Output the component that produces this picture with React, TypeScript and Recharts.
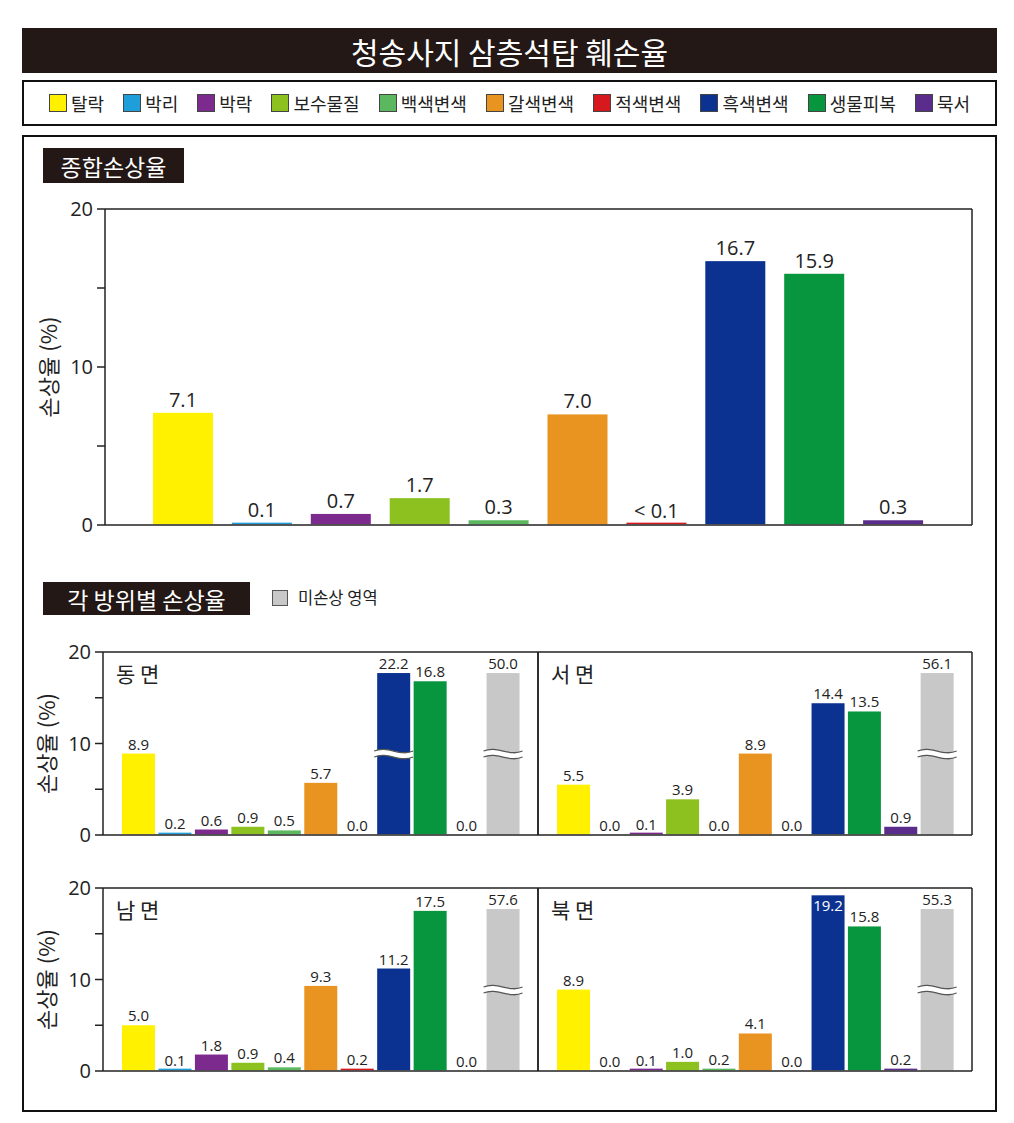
import React from 'react';
import { BarChart, Bar, XAxis, YAxis, Cell, LabelList } from 'recharts';

const CATEGORIES = ['탈락', '박리', '박락', '보수물질', '백색변색', '갈색변색', '적색변색', '흑색변색', '생물피복', '묵서'];
const UNDAMAGED = '미손상 영역';
const PANEL_CATEGORIES = [...CATEGORIES, UNDAMAGED];
const COLORS = ['#FFF100', '#1E9FDA', '#7D2A8E', '#8CC11F', '#5CB85F', '#E99420', '#D6181F', '#0B3290', '#07953E', '#5A2D8C'];
const GRAY = '#C8C8C8';
const PANEL_COLORS = [...COLORS, GRAY];

const TOTAL = [7.1, 0.1, 0.7, 1.7, 0.3, 7.0, 0.05, 16.7, 15.9, 0.3];
const EAST = [8.9, 0.2, 0.6, 0.9, 0.5, 5.7, 0.0, 22.2, 16.8, 0.0, 50.0];
const WEST = [5.5, 0.0, 0.1, 3.9, 0.0, 8.9, 0.0, 14.4, 13.5, 0.9, 56.1];
const SOUTH = [5.0, 0.1, 1.8, 0.9, 0.4, 9.3, 0.2, 11.2, 17.5, 0.0, 57.6];
const NORTH = [8.9, 0.0, 0.1, 1.0, 0.2, 4.1, 0.0, 19.2, 15.8, 0.2, 55.3];

const Y_TICKS = [0, 5, 10, 15, 20];
const Y_MAX = 20;
const BREAK_DISPLAY = 17.7;

const FONT = "'Open Sans','Noto Sans CJK KR',sans-serif";
const KFONT = "'Noto Sans CJK KR','Open Sans',sans-serif";
const INK = '#231815';
const LINE = '#222';

const tickFmt = (v: number) => (v % 10 === 0 ? String(v) : '');

const yLabel = (props: any) => {
  const vb = props.viewBox || { x: 0, y: 0, width: 0, height: 0 };
  const cx = vb.x + 2;
  const cy = vb.y + vb.height / 2;
  return (
    <text x={cx} y={cy} transform={`rotate(-90 ${cx} ${cy})`} textAnchor="middle" dominantBaseline="central" fontSize={22} fill={LINE} fontFamily={KFONT}>
      손상율 (%)
    </text>
  );
};

const makeLabel = (fontSize: number, offset: number, fmt: (v: number) => string) => (props: any) => {
  const vb = props.viewBox || {};
  const x = Number(props.x ?? vb.x);
  const y = Number(props.y ?? vb.y);
  const width = Number(props.width ?? vb.width);
  const value = Number(props.value);
  const inside = value > 18.5 && value <= Y_MAX;
  const cx = x + width / 2;
  return (
    <text x={cx} y={inside ? y + offset + fontSize * 0.8 : y - offset} textAnchor="middle" fontSize={fontSize} fill={inside ? '#fff' : LINE} fontFamily={FONT}>
      {fmt(value)}
    </text>
  );
};

const BarShape = (colors: string[]) => (props: any) => {
  const { x, y, width, height, payload, index } = props;
  const fill = props.fill || colors[index];
  if (!height || height <= 0) return <g />;
  const bottom = y + height - 0.75;
  const topY = Math.min(y, bottom - 1.6);
  const parts: any[] = [<rect key="b" x={x} y={topY} width={width} height={bottom - topY} fill={fill} />];
  if (payload && payload.broken) {
    const my = y + height / 2;
    const x0 = x - 3;
    const x1 = x + width + 3;
    const w = x1 - x0;
    const g = 3;
    const a = 6;
    const top = my - g;
    const bot = my + g;
    const wave = (yy: number) => `M${x0},${yy} C${x0 + w * 0.35},${yy - a} ${x0 + w * 0.65},${yy + a} ${x1},${yy}`;
    const band = `${wave(top)} L${x1},${bot} C${x0 + w * 0.65},${bot + a} ${x0 + w * 0.35},${bot - a} ${x0},${bot} Z`;
    parts.push(<path key="band" d={band} fill="#fff" stroke="none" />);
    parts.push(<path key="l1" d={wave(top)} fill="none" stroke="#555" strokeWidth={1.3} />);
    parts.push(<path key="l2" d={wave(bot)} fill="none" stroke="#555" strokeWidth={1.3} />);
  }
  return <g>{parts}</g>;
};

const AXIS = { stroke: LINE, strokeWidth: 1.5 };

function TopChart() {
  const data = CATEGORIES.map((name, i) => ({ name, value: TOTAL[i] }));
  return (
    <div style={{ position: 'absolute', left: 0, top: 190 }}>
      <BarChart width={1014} height={360} data={data} margin={{ top: 18, right: 41, bottom: 24, left: 45 }}>
        <XAxis dataKey="name" tick={false} tickLine={false} height={1} axisLine={AXIS} padding={{ left: 39, right: 39 }} />
        <XAxis xAxisId="top" orientation="top" dataKey="name" tick={false} tickLine={false} height={1} axisLine={AXIS} padding={{ left: 39, right: 39 }} />
        <YAxis
          domain={[0, Y_MAX]}
          ticks={Y_TICKS}
          tickFormatter={tickFmt}
          width={60}
          tickSize={8}
          tickMargin={4}
          interval={0}
          tick={{ fill: LINE, fontSize: 20, fontFamily: FONT }}
          tickLine={AXIS}
          axisLine={AXIS}
          label={{ content: yLabel }}
        />
        <YAxis yAxisId="r" orientation="right" domain={[0, Y_MAX]} width={1} tick={false} tickLine={false} axisLine={AXIS} />
        <Bar dataKey="value" barSize={60} isAnimationActive={false} shape={BarShape(COLORS)}>
          {data.map((d, i) => (
            <Cell key={d.name} fill={COLORS[i]} />
          ))}
          <LabelList dataKey="value" content={makeLabel(20, 6, (v) => (v < 0.1 ? '< 0.1' : v.toFixed(1)))} />
        </Bar>
      </BarChart>
    </div>
  );
}

function Panel({ values, title, top, side }: { values: number[]; title: string; top: number; side: 'left' | 'right' }) {
  const data = PANEL_CATEGORIES.map((name, i) => ({
    name,
    value: values[i],
    display: values[i] > Y_MAX ? BREAK_DISPLAY : values[i],
    broken: values[i] > Y_MAX,
  }));
  const isLeft = side === 'left';
  const left = isLeft ? 0 : 536;
  const width = isLeft ? 540 : 478;
  const margin = isLeft ? { top: 19, right: 1, bottom: 19, left: 43 } : { top: 19, right: 41, bottom: 19, left: 1 };
  const plotLeft = isLeft ? 103 : 538;
  return (
    <>
      <div style={{ position: 'absolute', left, top }}>
        <BarChart width={width} height={223} data={data} margin={margin}>
          <XAxis dataKey="name" tick={false} tickLine={false} height={1} axisLine={AXIS} padding={{ left: 17, right: 17 }} />
          <XAxis xAxisId="top" orientation="top" dataKey="name" tick={false} tickLine={false} height={1} axisLine={AXIS} padding={{ left: 17, right: 17 }} />
          {isLeft ? (
            <YAxis
              domain={[0, Y_MAX]}
              ticks={Y_TICKS}
              tickFormatter={tickFmt}
              width={60}
              tickSize={8}
              tickMargin={4}
              interval={0}
              tick={{ fill: LINE, fontSize: 20, fontFamily: FONT }}
              tickLine={AXIS}
              axisLine={AXIS}
              label={{ content: yLabel }}
            />
          ) : (
            <YAxis domain={[0, Y_MAX]} width={1} tick={false} tickLine={false} axisLine={AXIS} />
          )}
          <YAxis yAxisId="r" orientation="right" domain={[0, Y_MAX]} width={1} tick={false} tickLine={false} axisLine={AXIS} />
          <Bar dataKey="display" barSize={33} isAnimationActive={false} shape={BarShape(PANEL_COLORS)}>
            {data.map((d, i) => (
              <Cell key={d.name} fill={PANEL_COLORS[i]} />
            ))}
            <LabelList dataKey="value" content={makeLabel(15, 4, (v) => v.toFixed(1))} />
          </Bar>
        </BarChart>
      </div>
      <div style={{ position: 'absolute', left: plotLeft + 13, top: top + 31, fontSize: 21, lineHeight: 1, fontFamily: KFONT, color: LINE, whiteSpace: 'pre' }}>
        {title}
      </div>
    </>
  );
}

export default function App() {
  return (
    <div style={{ position: 'relative', width: 1014, height: 1123, background: '#fff', fontFamily: KFONT }}>
      <style>{'body{margin:0;}'}</style>
      <div style={{ position: 'absolute', left: 22, top: 28, width: 975, height: 45, background: INK, color: '#fff', fontSize: 30, display: 'flex', alignItems: 'center', justifyContent: 'center' }}>
        청송사지 삼층석탑 훼손율
      </div>
      <div style={{ position: 'absolute', left: 22, top: 80, width: 975, height: 46, boxSizing: 'border-box', border: '2px solid #111', display: 'flex', alignItems: 'center', justifyContent: 'center', gap: 19 }}>
        {CATEGORIES.map((c, i) => (
          <div key={c} style={{ display: 'flex', alignItems: 'center', gap: 4 }}>
            <div style={{ width: 18, height: 18, background: COLORS[i], boxSizing: 'border-box', border: '1px solid #444' }} />
            <span style={{ fontSize: 18, lineHeight: 1, color: LINE }}>{c}</span>
          </div>
        ))}
      </div>
      <div style={{ position: 'absolute', left: 22, top: 135, width: 975, height: 977, boxSizing: 'border-box', border: '2px solid #111' }} />
      <div style={{ position: 'absolute', left: 43, top: 148, width: 141, height: 35, background: INK, color: '#fff', fontSize: 23, display: 'flex', alignItems: 'center', justifyContent: 'center' }}>
        종합손상율
      </div>
      <TopChart />
      <div style={{ position: 'absolute', left: 43, top: 582, width: 207, height: 33, background: INK, color: '#fff', fontSize: 23, display: 'flex', alignItems: 'center', justifyContent: 'center' }}>
        각 방위별 손상율
      </div>
      <div style={{ position: 'absolute', left: 272, top: 590, width: 16, height: 16, background: GRAY, boxSizing: 'border-box', border: '1px solid #555' }} />
      <div style={{ position: 'absolute', left: 298, top: 588, fontSize: 16.5, lineHeight: 1.2, color: LINE }}>{UNDAMAGED}</div>
      <Panel values={EAST} title="동 면" top={632} side="left" />
      <Panel values={WEST} title="서 면" top={632} side="right" />
      <Panel values={SOUTH} title="남 면" top={868} side="left" />
      <Panel values={NORTH} title="북 면" top={868} side="right" />
    </div>
  );
}
